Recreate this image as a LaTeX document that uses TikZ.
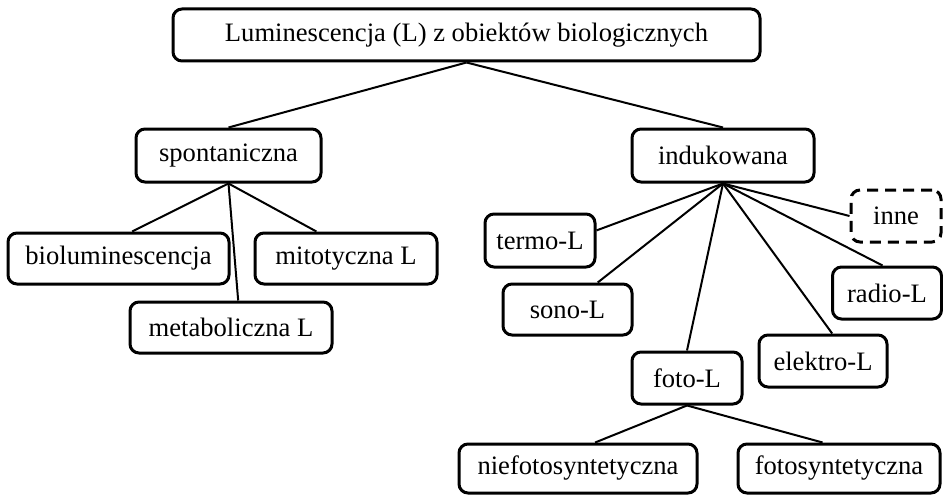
\documentclass[tikz,border=0pt]{standalone}
\usepackage{fontspec}
\setmainfont{Liberation Serif}
\usetikzlibrary{calc}
\tikzset{
  box/.style={draw, line width=3pt, rounded corners=9pt, inner sep=0pt,
    font=\fontsize{26.6}{30}\selectfont, fill=white},
  dashbox/.style={box, dash pattern=on 11pt off 7pt},
  link/.style={line width=2pt},
}
\begin{document}
\begin{tikzpicture}[x=1pt,y=-1pt]
\useasboundingbox (0,0) rectangle (943,495);
\node[box, minimum width=587pt, minimum height=52pt] (top) at (466.5,35) {Luminescencja (L) z obiektów biologicznych};
\node[box, minimum width=185pt, minimum height=53pt] (spont) at (228.5,155.5) {spontaniczna};
\node[box, minimum width=182pt, minimum height=53pt] (ind) at (723,155.5) {indukowana};
\node[box, minimum width=221pt, minimum height=51pt] (bio) at (118.5,258.5) {bioluminescencja};
\node[box, minimum width=182pt, minimum height=51pt] (mito) at (346,258.5) {mitotyczna L};
\node[box, minimum width=202pt, minimum height=51pt] (meta) at (231,327.5) {metaboliczna L};
\node[dashbox, minimum width=90pt, minimum height=52pt] (inne) at (896,216) {inne};
\node[box, minimum width=110pt, minimum height=53pt] (termo) at (540,240.5) {termo-L};
\node[box, minimum width=129pt, minimum height=51pt] (sono) at (567.5,309.5) {sono-L};
\node[box, minimum width=109pt, minimum height=52pt] (radio) at (887,293) {radio-L};
\node[box, minimum width=128pt, minimum height=52pt] (elektro) at (823,361) {elektro-L};
\node[box, minimum width=110pt, minimum height=52pt] (foto) at (687,378) {foto-L};
\node[box, minimum width=238pt, minimum height=49pt] (nief) at (578,468.5) {niefotosyntetyczna};
\node[box, minimum width=202pt, minimum height=49pt] (fotos) at (839,468.5) {fotosyntetyczna};

\draw[link] (top.south) -- (spont.north);
\draw[link] (top.south) -- (ind.north);
\draw[link] (spont.south) -- ($(bio.north west)!0.561!(bio.north east)$);
\draw[link] (spont.south) -- ($(mito.north west)!0.34!(mito.north east)$);
\draw[link] (spont.south) -- ($(meta.north west)!0.535!(meta.north east)$);
\draw[link] (ind.south) -- (inne.west);
\draw[link] (ind.south) -- ($(termo.north east)!0.32!(termo.south east)$);
\draw[link] (ind.south) -- ($(sono.north west)!0.729!(sono.north east)$);
\draw[link] (ind.south) -- (foto.north);
\draw[link] (ind.south) -- ($(elektro.north west)!0.57!(elektro.north east)$);
\draw[link] (ind.south) -- ($(radio.north west)!0.46!(radio.north east)$);
\draw[link] (foto.south) -- ($(nief.north west)!0.571!(nief.north east)$);
\draw[link] (foto.south) -- ($(fotos.north west)!0.42!(fotos.north east)$);
\end{tikzpicture}
\end{document}
